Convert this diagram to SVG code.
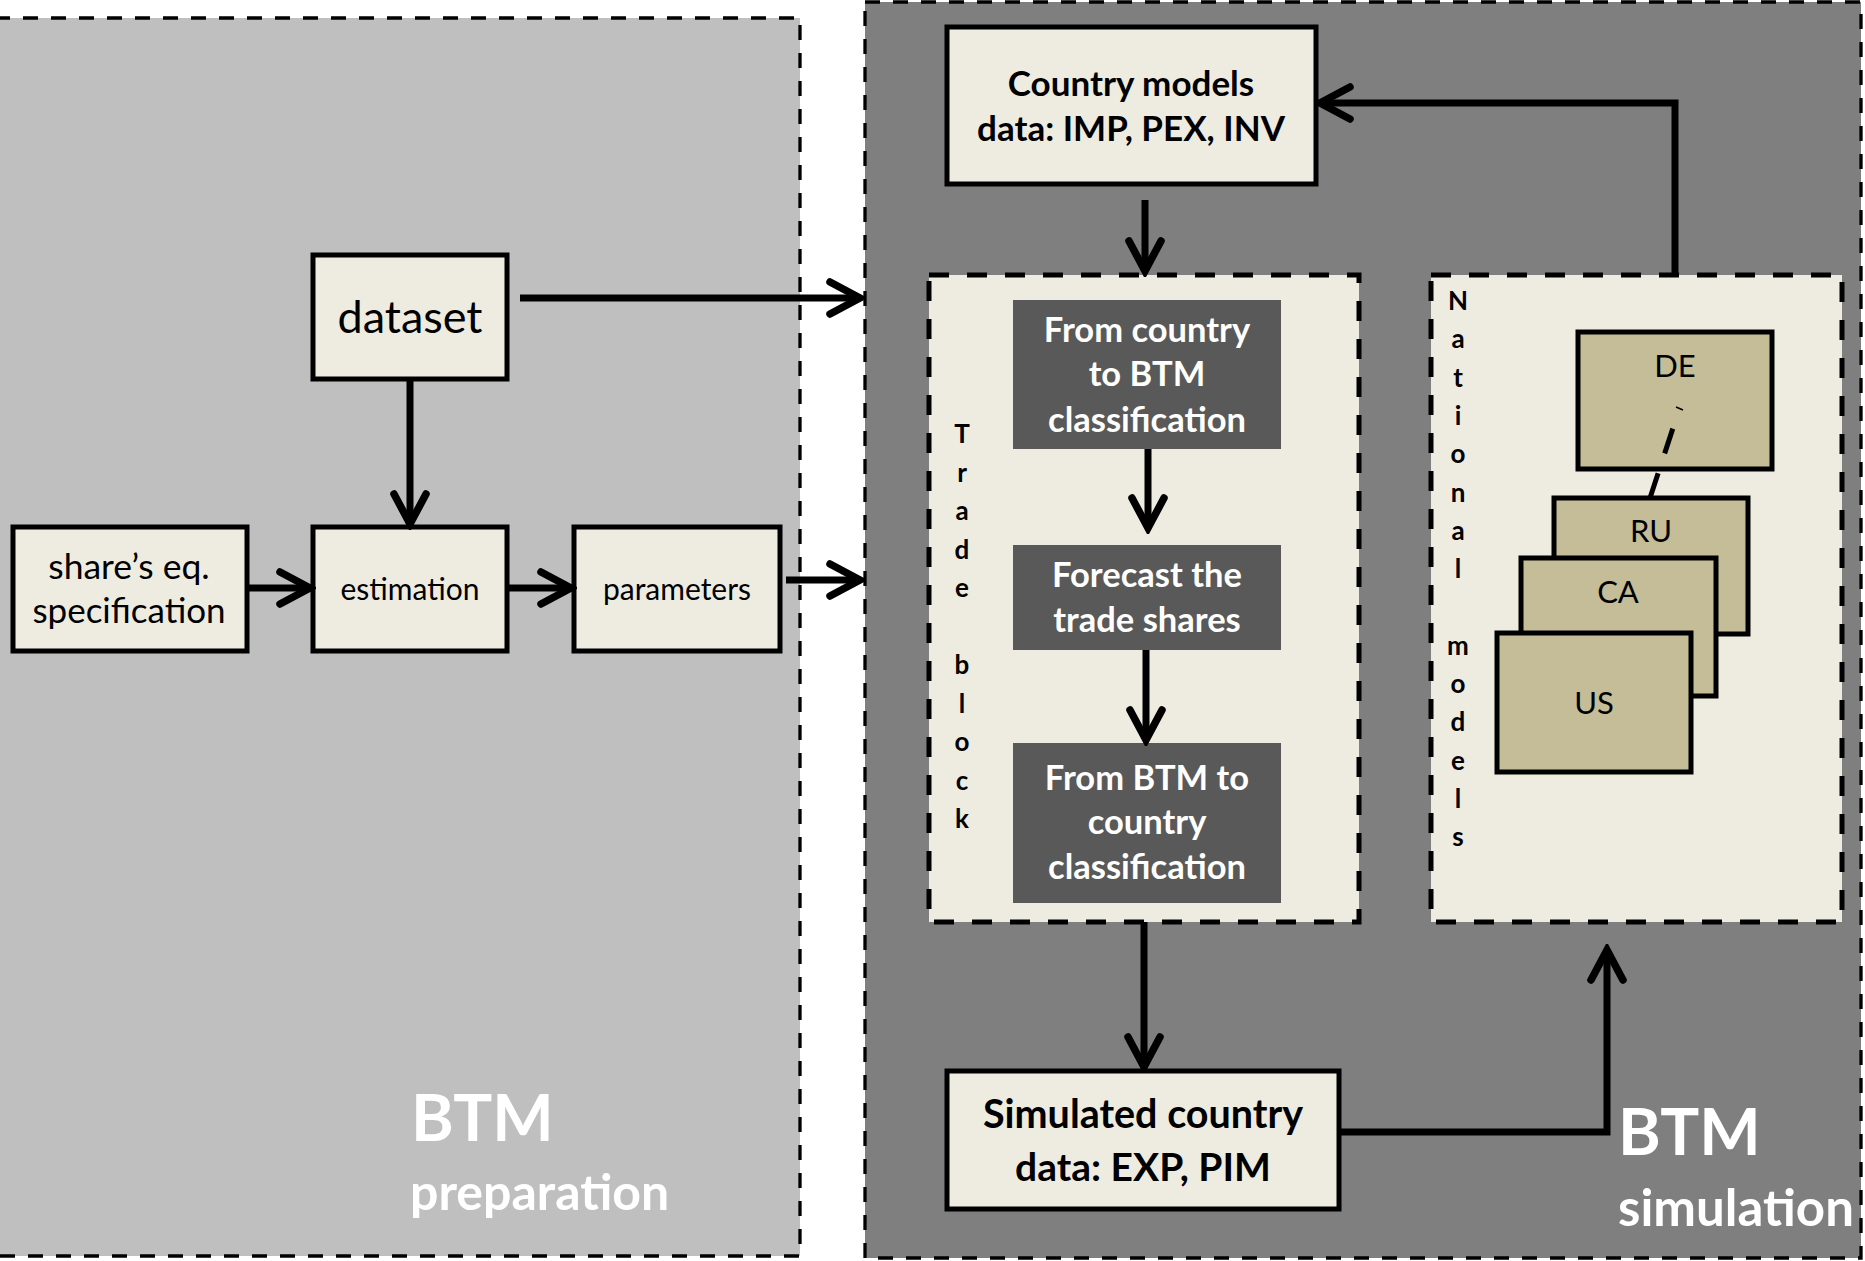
<svg xmlns="http://www.w3.org/2000/svg" width="1865" height="1261" viewBox="0 0 1865 1261">
<style>
.panel{stroke:#000;stroke-width:3.3;stroke-dasharray:15 13}
.inner{fill:#eeece1;stroke:#000;stroke-width:5;stroke-dasharray:20 18}
.box{fill:#eeece1;stroke:#000;stroke-width:5}
.dark{fill:#595959}
.cbox{fill:#c4bd97;stroke:#000;stroke-width:5}
.t{font-family:Lato,"Liberation Sans",sans-serif;fill:#000;text-anchor:middle}
.b{font-weight:bold}
.w{fill:#fff}
.v{font-family:Lato,"Liberation Sans",sans-serif;font-weight:bold;font-size:26px;text-anchor:middle}
.title{font-family:Lato,"Liberation Sans",sans-serif;font-weight:bold;fill:#fff}
.conn{fill:none;stroke:#000;stroke-width:7;marker-end:url(#ah)}
</style>
<defs>
<marker id="ah" markerUnits="userSpaceOnUse" viewBox="-38 -22 44 44" refX="0" refY="0" markerWidth="44" markerHeight="44" orient="auto">
<path d="M-30,-16 L0,0 L-30,16" fill="none" stroke="#000" stroke-width="7.5" stroke-linecap="round" stroke-linejoin="miter" stroke-miterlimit="3"/>
</marker>
</defs>
<rect width="1865" height="1261" fill="#fff"/>
<g id="panel-preparation">
<rect class="panel" x="-5" y="18" width="805" height="1238" fill="#bfbfbf"/>
<text class="title" x="411" y="1141" font-size="65">BTM</text>
<text class="title" x="410" y="1210" font-size="50">preparation</text>
</g>
<g id="panel-simulation">
<rect class="panel" x="865" y="2" width="996" height="1256" fill="#7f7f7f"/>
<text class="title" x="1618" y="1155" font-size="65">BTM</text>
<text class="title" x="1618" y="1226" font-size="51">simulation</text>
</g>
<g id="trade-block">
<rect class="inner" x="929" y="275" width="430" height="647"/>
<text class="v"><tspan x="962" y="443">T</tspan><tspan x="962" y="481.5">r</tspan><tspan x="962" y="520">a</tspan><tspan x="962" y="558.5">d</tspan><tspan x="962" y="597">e</tspan><tspan x="962" y="674">b</tspan><tspan x="962" y="712.5">l</tspan><tspan x="962" y="751">o</tspan><tspan x="962" y="789.5">c</tspan><tspan x="962" y="828">k</tspan></text>
</g>
<g id="national-models">
<rect class="inner" x="1431" y="275" width="411" height="647"/>
<text class="v"><tspan x="1458" y="310">N</tspan><tspan x="1458" y="348">a</tspan><tspan x="1458" y="387">t</tspan><tspan x="1458" y="425">i</tspan><tspan x="1458" y="463">o</tspan><tspan x="1458" y="502">n</tspan><tspan x="1458" y="540">a</tspan><tspan x="1458" y="578">l</tspan><tspan x="1458" y="655">m</tspan><tspan x="1458" y="693">o</tspan><tspan x="1458" y="731">d</tspan><tspan x="1458" y="770">e</tspan><tspan x="1458" y="808">l</tspan><tspan x="1458" y="846">s</tspan></text>
</g>
<g id="dataset">
<rect class="box" x="313" y="255" width="194" height="124"/>
<text class="t" x="410" y="333" font-size="45">dataset</text>
</g>
<g id="shares-eq">
<rect class="box" x="13" y="527" width="234" height="124"/>
<text class="t" x="129" y="579" font-size="35.5">share’s eq.</text>
<text class="t" x="129" y="623" font-size="35">specification</text>
</g>
<g id="estimation">
<rect class="box" x="313" y="527" width="194" height="124"/>
<text class="t" x="410" y="600" font-size="30">estimation</text>
</g>
<g id="parameters">
<rect class="box" x="574" y="527" width="206" height="124"/>
<text class="t" x="677" y="600" font-size="30">parameters</text>
</g>
<g id="country-models">
<rect class="box" x="947" y="27" width="369" height="157"/>
<text class="t b" x="1131" y="96" font-size="35">Country models</text>
<text class="t b" x="1131" y="141" font-size="35">data: IMP, PEX, INV</text>
</g>
<g id="from-country">
<rect class="dark" x="1013" y="300" width="268" height="149"/>
<text class="t b w" x="1147" y="342" font-size="34.5">From country</text>
<text class="t b w" x="1147" y="386" font-size="34.5">to BTM</text>
<text class="t b w" x="1147" y="432" font-size="34.5">classification</text>
</g>
<g id="forecast">
<rect class="dark" x="1013" y="545" width="268" height="105"/>
<text class="t b w" x="1147" y="587" font-size="34.5">Forecast the</text>
<text class="t b w" x="1147" y="632" font-size="34.5">trade shares</text>
</g>
<g id="from-btm">
<rect class="dark" x="1013" y="743" width="268" height="160"/>
<text class="t b w" x="1147" y="790" font-size="34.5">From BTM to</text>
<text class="t b w" x="1147" y="834" font-size="34.5">country</text>
<text class="t b w" x="1147" y="879" font-size="34.5">classification</text>
</g>
<g id="simulated">
<rect class="box" x="947" y="1071" width="392" height="138"/>
<text class="t b" x="1143" y="1128" font-size="39.5">Simulated country</text>
<text class="t b" x="1143" y="1181" font-size="39">data: EXP, PIM</text>
</g>
<g id="DE">
<rect class="cbox" x="1578" y="332" width="194" height="137"/>
<text class="t" x="1675" y="377" font-size="31">DE</text>
</g>
<g id="RU">
<rect class="cbox" x="1554" y="498" width="194" height="136"/>
<text class="t" x="1651" y="542" font-size="31">RU</text>
</g>
<g id="CA">
<rect class="cbox" x="1521" y="558" width="195" height="138"/>
<text class="t" x="1618" y="603" font-size="31">CA</text>
</g>
<g id="US">
<rect class="cbox" x="1497" y="633" width="194" height="139"/>
<text class="t" x="1594" y="714" font-size="31">US</text>
</g>
<g id="connectors">
<path class="conn" d="M410,379 L410,524"/>
<path class="conn" d="M247,588 L310,588"/>
<path class="conn" d="M507,588 L571,588"/>
<path class="conn" d="M520,298 L860,298"/>
<path class="conn" d="M786,580 L860,580"/>
<path class="conn" d="M1145,200 L1145,271"/>
<path class="conn" d="M1148,449 L1148,528"/>
<path class="conn" d="M1146,650 L1146,740"/>
<path class="conn" d="M1144,922 L1144,1067"/>
<path class="conn" d="M1675,275 L1675,103 L1320,103"/>
<path class="conn" d="M1339,1132 L1607,1132 L1607,950"/>
<path d="M1650,498 L1673,428" fill="none" stroke="#000" stroke-width="5" stroke-dasharray="26 21"/>
<path d="M1676,407 L1683,410" fill="none" stroke="#000" stroke-width="1.5"/>
</g>
</svg>
